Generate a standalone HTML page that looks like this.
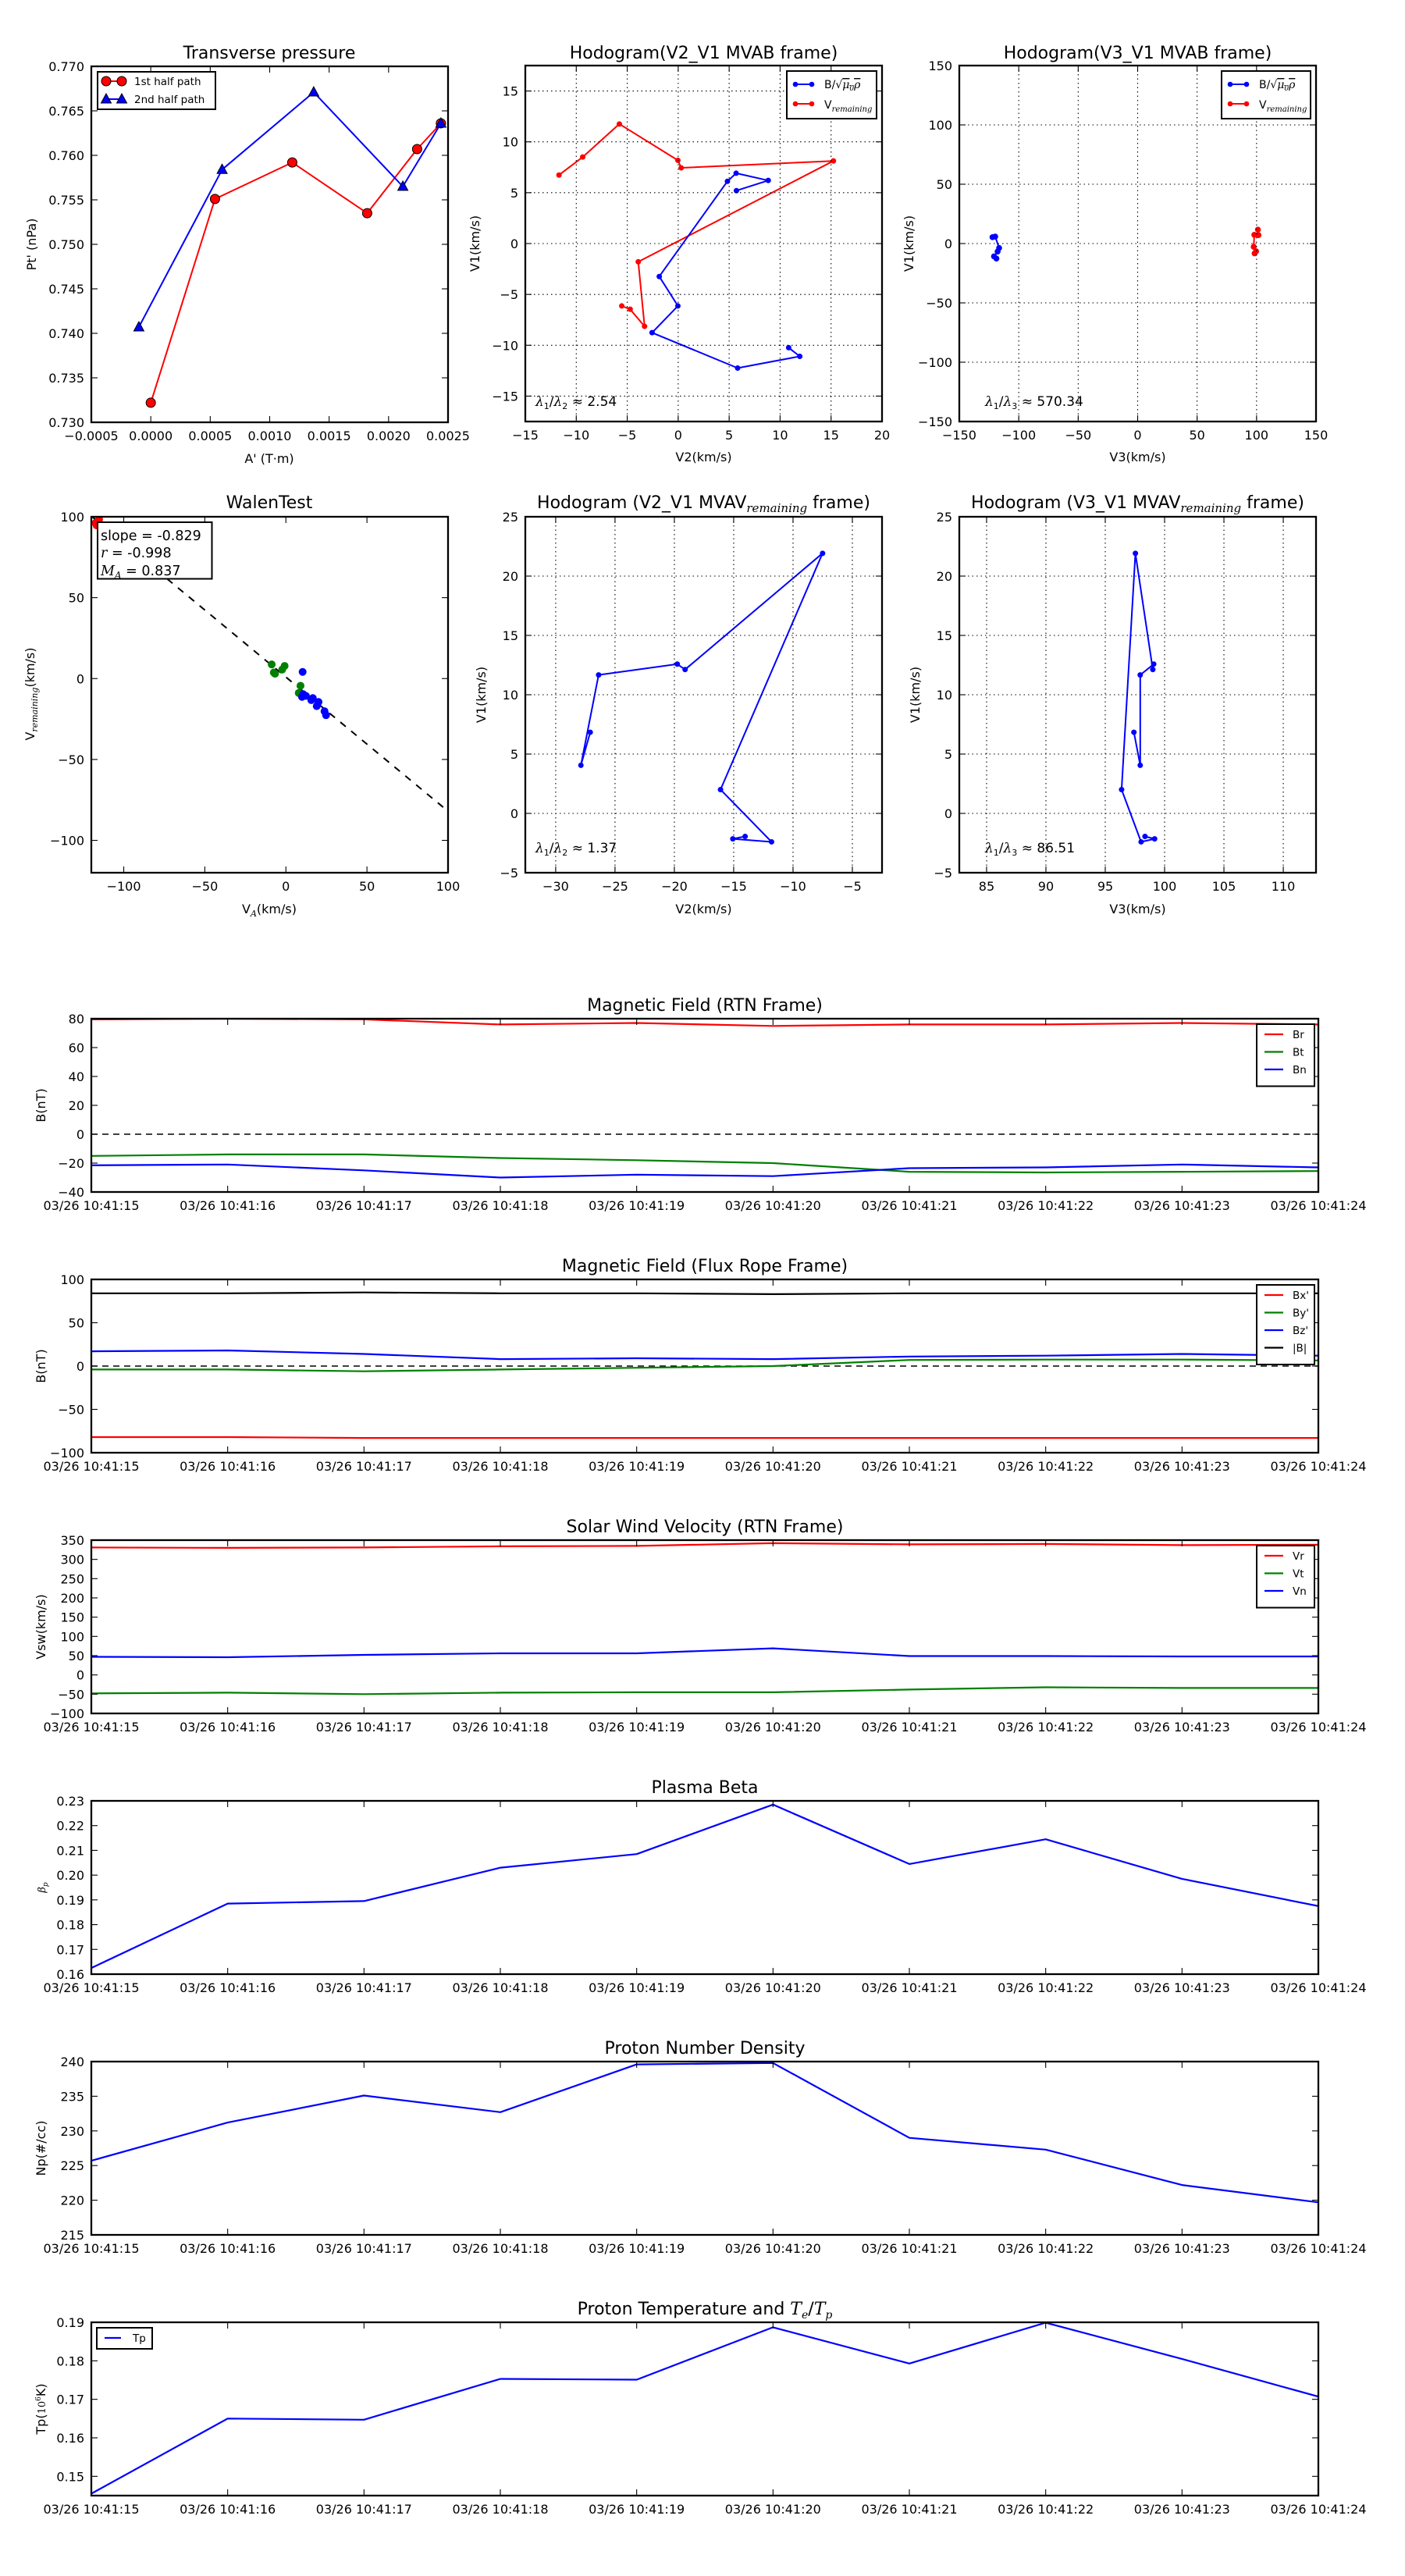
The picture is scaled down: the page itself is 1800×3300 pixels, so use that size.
<!DOCTYPE html>
<html><head><meta charset="utf-8">
<style>
html,body{margin:0;padding:0;background:#fff;}
svg{display:block;font-family:"DejaVu Sans","Liberation Sans",sans-serif;}
</style></head>
<body>
<svg id="s" xmlns="http://www.w3.org/2000/svg" width="1800" height="3300" viewBox="0 0 1800 3300"><rect width="1800" height="3300" fill="#fff"/><defs id="d"></defs></svg>
<script>
const NS='http://www.w3.org/2000/svg';const svg=document.getElementById('s');const defs=document.getElementById('d');
function el(tag,a,p){const e=document.createElementNS(NS,tag);for(const k in a)e.setAttribute(k,a[k]);(p||svg).appendChild(e);return e;}
function T(x,y,s,size,anchor,extra,p){const e=el('text',Object.assign({x:x,y:y,'font-size':size,'text-anchor':anchor||'middle',fill:'#000'},extra||{}),p);e.innerHTML=s;return e;}
let cid=0;
function ax(x0,y0,x1,y1,xr,yr){
  const a={x0,y0,x1,y1,X:v=>x0+(v-xr[0])/(xr[1]-xr[0])*(x1-x0),Y:v=>y1-(v-yr[0])/(yr[1]-yr[0])*(y1-y0)};
  const id='c'+(cid++);const cp=el('clipPath',{id:id},defs);el('rect',{x:x0,y:y0,width:x1-x0,height:y1-y0},cp);
  a.g=el('g',{'clip-path':'url(#'+id+')'});return a;}
function frame(a){el('rect',{x:a.x0,y:a.y0,width:a.x1-a.x0,height:a.y1-a.y0,fill:'none',stroke:'#000','stroke-width':2.3});}
function xt(a,vals,labs,grid){vals.forEach((v,i)=>{const x=a.X(v);
  if(grid)el('line',{x1:x,y1:a.y0,x2:x,y2:a.y1,stroke:'#000','stroke-width':1.1,'stroke-dasharray':'1.5,4'});
  el('line',{x1:x,y1:a.y1,x2:x,y2:a.y1-8,stroke:'#000','stroke-width':1.1});el('line',{x1:x,y1:a.y0,x2:x,y2:a.y0+8,stroke:'#000','stroke-width':1.1});
  T(x,a.y1+23,labs[i],16);});}
function yt(a,vals,labs,grid){vals.forEach((v,i)=>{const y=a.Y(v);
  if(grid)el('line',{x1:a.x0,y1:y,x2:a.x1,y2:y,stroke:'#000','stroke-width':1.1,'stroke-dasharray':'1.5,4'});
  el('line',{x1:a.x0,y1:y,x2:a.x0+8,y2:y,stroke:'#000','stroke-width':1.1});el('line',{x1:a.x1,y1:y,x2:a.x1-8,y2:y,stroke:'#000','stroke-width':1.1});
  T(a.x0-9,y+6,labs[i],16,'end');});}
function ylab(x,y,s,size){T(x,y,s,size||16,'middle',{transform:'rotate(-90 '+x+' '+y+')'});}
function poly(a,pts,col,w,extra){return el('polyline',Object.assign({points:pts.map(p=>p[0].toFixed(1)+','+p[1].toFixed(1)).join(' '),fill:'none',stroke:col,'stroke-width':w||2,'stroke-linejoin':'round'},extra||{}),a?a.g:svg);}
function dots(a,pts,col,r,sc){pts.forEach(p=>el('circle',{cx:p[0],cy:p[1],r:r,fill:col,stroke:sc||'none','stroke-width':1},a?a.g:svg));}
const rng=(a,b,s)=>{const r=[];for(let v=a;v<=b+1e-9;v+=s)r.push(+v.toFixed(6));return r;};
const mns=s=>String(s).replace('-','&#8722;');
const Z=(X,Y,pts)=>pts.map(p=>[X+p[0]/2.6,Y+p[1]/2.6]);

// ---------- Panel 1: Transverse pressure
{const a=ax(117,85,574,541,[-0.0005,0.0025],[0.730,0.770]);
const xv=rng(-0.0005,0.0025,0.0005);xt(a,xv,xv.map(v=>mns(v.toFixed(4))));
const yv=rng(0.730,0.770,0.005);yt(a,yv,yv.map(v=>v.toFixed(3)));
const red=[[0,0.7322],[0.00054,0.7551],[0.00119,0.7592],[0.00182,0.7535],[0.00224,0.7607],[0.00244,0.7636]].map(p=>[a.X(p[0]),a.Y(p[1])]);
const blue=[[-0.0001,0.7407],[0.0006,0.7584],[0.00137,0.7671],[0.00212,0.7565],[0.00244,0.7636]].map(p=>[a.X(p[0]),a.Y(p[1])]);
poly(a,red,'#f00',2);poly(a,blue,'#00f',2);
dots(a,red,'#f00',6,'#000');
blue.forEach(p=>el('polygon',{points:`${p[0]},${p[1]-7} ${p[0]-6.5},${p[1]+5} ${p[0]+6.5},${p[1]+5}`,fill:'#00f',stroke:'#000','stroke-width':1},a.g));
frame(a);
el('rect',{x:125,y:92,width:151,height:48,fill:'#fff',stroke:'#000','stroke-width':2});
el('line',{x1:136,y1:104,x2:156,y2:104,stroke:'#f00','stroke-width':2});dots(null,[[136,104],[156,104]],'#f00',6,'#000');
el('line',{x1:136,y1:127,x2:156,y2:127,stroke:'#00f','stroke-width':2});
[[136,127],[156,127]].forEach(p=>el('polygon',{points:`${p[0]},${p[1]-7} ${p[0]-6.5},${p[1]+5} ${p[0]+6.5},${p[1]+5}`,fill:'#00f',stroke:'#000','stroke-width':1}));
T(172,109,'1st half path',13.5,'start');T(172,132,'2nd half path',13.5,'start');
T(345,75,'Transverse pressure',22);T(345,593,"A' (T·m)",16);ylab(46,313,"Pt' (nPa)");}

function legBV(x0,y0,w){el('rect',{x:x0,y:y0,width:w,height:61,fill:'#fff',stroke:'#000','stroke-width':2});
 el('line',{x1:x0+11,y1:y0+17,x2:x0+32,y2:y0+17,stroke:'#00f','stroke-width':2});dots(null,[[x0+11,y0+17],[x0+32,y0+17]],'#00f',3.3);
 el('line',{x1:x0+11,y1:y0+42,x2:x0+32,y2:y0+42,stroke:'#f00','stroke-width':2});dots(null,[[x0+11,y0+42],[x0+32,y0+42]],'#f00',3.3);
 T(x0+48,y0+22,'B/√<tspan font-family="DejaVu Serif" font-style="italic" text-decoration="overline">μ<tspan font-size="9" dy="3">0</tspan><tspan dy="-3">ρ</tspan></tspan>',14,'start');
 T(x0+48,y0+48,'V<tspan font-family="DejaVu Serif" font-style="italic" font-size="10" dy="4">remaining</tspan>',14,'start');}

// ---------- Panel 2: Hodogram V2_V1 MVAB
{const a=ax(673,84,1130,540,[-15,20],[-17.5,17.5]);
const xv=rng(-15,20,5);xt(a,xv,xv.map(mns),true);const yv=rng(-15,15,5);yt(a,yv,yv.map(mns),true);
const red=Z(600,40,[[302,479],[381,419],[503,309],[698,430],[709,455],[1216,432],[566,768],[587,983],[539,926],[511,915]]);
const blue=Z(600,40,[[1067,1054],[1104,1083],[897,1122],[612,1004],[698,915],[636,817],[863,500],[892,473],[999,497],[893,531]]);
poly(a,red,'#f00',2);dots(a,red,'#f00',3.5);poly(a,blue,'#00f',2);dots(a,blue,'#00f',3.5);
frame(a);legBV(1008,91,115);
T(686,520,'<tspan font-family="DejaVu Serif" font-style="italic">λ</tspan><tspan font-size="11" dy="4">1</tspan><tspan dy="-4">/</tspan><tspan font-family="DejaVu Serif" font-style="italic">λ</tspan><tspan font-size="11" dy="4">2</tspan><tspan dy="-4"> ≈ 2.54</tspan>',17,'start');
T(901.5,75,'Hodogram(V2_V1 MVAB frame)',22);T(901.5,591,'V2(km/s)',16);ylab(614,312,'V1(km/s)');}

// ---------- Panel 3: Hodogram V3_V1 MVAB
{const a=ax(1229,84,1686,540,[-150,150],[-150,150]);
const xv=rng(-150,150,50);xt(a,xv,xv.map(mns),true);yt(a,xv,xv.map(mns),true);
const blue=Z(1200,40,[[186,686],[195,684],[208,722],[203,734],[191,750],[199,757]]);
const red=Z(1200,40,[[1070,661],[1072,679],[1058,678],[1056,718],[1064,733],[1059,740]]);
poly(a,blue,'#00f',2);dots(a,blue,'#00f',3.8);poly(a,red,'#f00',2);dots(a,red,'#f00',3.8);
frame(a);legBV(1565,91,114);
T(1262,520,'<tspan font-family="DejaVu Serif" font-style="italic">λ</tspan><tspan font-size="11" dy="4">1</tspan><tspan dy="-4">/</tspan><tspan font-family="DejaVu Serif" font-style="italic">λ</tspan><tspan font-size="11" dy="4">3</tspan><tspan dy="-4"> ≈ 570.34</tspan>',17,'start');
T(1457.5,75,'Hodogram(V3_V1 MVAB frame)',22);T(1457.5,591,'V3(km/s)',16);ylab(1170,312,'V1(km/s)');}

// ---------- Walen test
{const a=ax(117,662,574,1118,[-120,100],[-120,100]);
const xv=rng(-100,100,50);xt(a,xv,xv.map(mns));yt(a,xv,xv.map(mns));
poly(a,[[a.X(-120),a.Y(100.4)],[a.X(100),a.Y(-82)]],'#000',2,{'stroke-dasharray':'9,9'});
dots(a,Z(0,620,[[905,601],[916,632],[940,618],[948,606],[1001,672],[995,696],[912,628]]),'#008000',5);
dots(a,Z(0,620,[[1008,626],[1006,709],[1019,706],[1042,713],[1037,720],[1055,740],[1061,726],[1081,757],[1086,770],[1010,700]]),'#00f',5);
dots(a,Z(0,620,[[318,130],[330,118],[322,138]]),'#f00',5);
frame(a);
el('rect',{x:125,y:669,width:146.5,height:72.5,fill:'#fff',stroke:'#000','stroke-width':2});
T(129,692,'slope = -0.829',17.5,'start');
T(129,714,'<tspan font-family="DejaVu Serif" font-style="italic">r</tspan> = -0.998',17.5,'start');
T(129,737,'<tspan font-family="DejaVu Serif" font-style="italic">M</tspan><tspan font-family="DejaVu Serif" font-style="italic" font-size="12" dy="4">A</tspan><tspan dy="-4"> = 0.837</tspan>',17.5,'start');
T(345,651,'WalenTest',22);
T(345,1170,'V<tspan font-family="DejaVu Serif" font-style="italic" font-size="11" dy="4">A</tspan><tspan dy="-4">(km/s)</tspan>',16);
ylab(44,889,'V<tspan font-family="DejaVu Serif" font-style="italic" font-size="11" dy="4">remaining</tspan><tspan dy="-4">(km/s)</tspan>');}

const lam2='<tspan font-family="DejaVu Serif" font-style="italic">λ</tspan><tspan font-size="11" dy="4">1</tspan><tspan dy="-4">/</tspan><tspan font-family="DejaVu Serif" font-style="italic">λ</tspan><tspan font-size="11" dy="4">';
const rem='MVAV<tspan font-family="DejaVu Serif" font-style="italic" font-size="15" dy="5">remaining</tspan><tspan dy="-5"> frame)</tspan>';
// ---------- Row2 p2
{const a=ax(673,662,1130,1118,[-32.56,-2.5],[-5,25]);
const xv=rng(-30,-5,5);xt(a,xv,xv.map(mns),true);const yv=rng(-5,25,5);yt(a,yv,yv.map(mns),true);
const b=Z(600,620,[[922,1174],[881,1182],[1010,1192],[840,1018],[1180,231],[722,618],[696,600],[434,636],[375,937],[406,827]]);
poly(a,b,'#00f',2);dots(a,b,'#00f',3.5);frame(a);
T(686,1092,lam2+'2</tspan><tspan dy="-4"> ≈ 1.37</tspan>',17,'start');
T(901.5,651,'Hodogram (V2_V1 '+rem,22);T(901.5,1170,'V2(km/s)',16);ylab(622,890,'V1(km/s)');}
// ---------- Row2 p3
{const a=ax(1229,662,1686,1118,[82.7,112.76],[-5,25]);
const xv=rng(85,110,5);xt(a,xv,xv.map(String),true);const yv=rng(-5,25,5);yt(a,yv,yv.map(mns),true);
const b=Z(1200,620,[[694,1174],[726,1182],[681,1192],[616,1018],[662,231],[720,618],[723,600],[678,636],[678,937],[657,827]]);
poly(a,b,'#00f',2);dots(a,b,'#00f',3.5);frame(a);
T(1262,1092,lam2+'3</tspan><tspan dy="-4"> ≈ 86.51</tspan>',17,'start');
T(1457.5,651,'Hodogram (V3_V1 '+rem,22);T(1457.5,1170,'V3(km/s)',16);ylab(1178,890,'V1(km/s)');}

// ---------- Time series
const dl=[];for(let i=0;i<10;i++)dl.push('03/26 10:41:'+(15+i));
function ts(top,yr,yv,ylabs,title,ylabel,series,legend,zero){
 const a=ax(117,top,1689,top+222,[0,9],yr);
 xt(a,rng(0,9,1),dl);yt(a,yv,ylabs);
 if(zero)poly(a,[[117,a.Y(0)],[1689,a.Y(0)]],'#000',1.5,{'stroke-dasharray':'8,6'});
 series.forEach(s=>poly(a,s.d.map((v,i)=>[a.X(i),a.Y(v)]),s.c,2.2));
 frame(a);
 T(903,top-10,title,22);ylab(58,top+111,ylabel);
 if(legend==='R'){const n=series.length,h=n*22.5+12;
  el('rect',{x:1610,y:top+7,width:74,height:h,fill:'#fff',stroke:'#000','stroke-width':2});
  series.forEach((s,i)=>{const y=top+20+i*22.5;el('line',{x1:1620,y1:y,x2:1644,y2:y,stroke:s.c,'stroke-width':2.2});T(1656,y+5,s.n,13.5,'start');});}
 if(legend==='L'){el('rect',{x:124,y:top+7,width:71,height:27,fill:'#fff',stroke:'#000','stroke-width':2});
  el('line',{x1:134,y1:top+20,x2:155,y2:top+20,stroke:'#00f','stroke-width':2.2});T(170,top+25,series[0].n,13.5,'start');}
}
ts(1305,[-40,80],rng(-40,80,20),rng(-40,80,20).map(mns),'Magnetic Field (RTN Frame)','B(nT)',[
 {n:'Br',c:'#f00',d:[79.5,80,79.5,76,77,75,76,76,77,76]},
 {n:'Bt',c:'#008000',d:[-15,-14,-14,-16.5,-18,-20,-26,-26.5,-26,-25.5]},
 {n:'Bn',c:'#00f',d:[-21.5,-21,-25,-30,-28,-29,-23.5,-23,-21,-23]}],'R',true);
ts(1639,[-100,100],rng(-100,100,50),rng(-100,100,50).map(mns),'Magnetic Field (Flux Rope Frame)','B(nT)',[
 {n:"Bx'",c:'#f00',d:[-82,-82,-83,-83,-83,-83,-83,-83,-83,-83]},
 {n:"By'",c:'#008000',d:[-4,-4,-6,-4,-2,0,7,7.5,7.5,6.5]},
 {n:"Bz'",c:'#00f',d:[17,18,14,8,9,8,11,12,14,12]},
 {n:'|B|',c:'#000',d:[84,84,85,84,84,83,84,84,84,84]}],'R',true);
ts(1973,[-100,350],rng(-100,350,50),rng(-100,350,50).map(mns),'Solar Wind Velocity (RTN Frame)','Vsw(km/s)',[
 {n:'Vr',c:'#f00',d:[331,330,331,334,335,342,339,340,337,338]},
 {n:'Vt',c:'#008000',d:[-48,-46,-50,-46,-45,-45,-38,-32,-34,-34]},
 {n:'Vn',c:'#00f',d:[47,46,52,56,56,69,49,49,48,48]}],'R',false);
ts(2307,[0.16,0.23],rng(0.16,0.23,0.01),rng(0.16,0.23,0.01).map(v=>v.toFixed(2)),'Plasma Beta','<tspan font-family="DejaVu Serif" font-style="italic" font-size="13">β</tspan><tspan font-family="DejaVu Serif" font-style="italic" font-size="9" dy="3">p</tspan>',[
 {n:'b',c:'#00f',d:[0.1625,0.1885,0.1895,0.203,0.2085,0.2285,0.2045,0.2145,0.1985,0.1875]}],null,false);
ts(2641,[215,240],rng(215,240,5),rng(215,240,5).map(String),'Proton Number Density','Np(#/cc)',[
 {n:'n',c:'#00f',d:[225.7,231.2,235.1,232.7,239.6,239.8,229,227.3,222.2,219.7]}],null,false);
ts(2975,[0.145,0.19],rng(0.15,0.19,0.01),rng(0.15,0.19,0.01).map(v=>v.toFixed(2)),'Proton Temperature and <tspan font-family="DejaVu Serif" font-style="italic">T</tspan><tspan font-family="DejaVu Serif" font-style="italic" font-size="14" dy="5">e</tspan><tspan dy="-5">/</tspan><tspan font-family="DejaVu Serif" font-style="italic">T</tspan><tspan font-family="DejaVu Serif" font-style="italic" font-size="14" dy="5">p</tspan>','Tp(<tspan font-family="DejaVu Serif" font-size="13">10<tspan font-size="9" dy="-6">6</tspan></tspan><tspan dy="6">K)</tspan>',[
 {n:'Tp',c:'#00f',d:[0.1455,0.165,0.1647,0.1753,0.1751,0.1887,0.1793,0.1899,0.1805,0.1707]}],'L',false);
</script>
</body></html>
